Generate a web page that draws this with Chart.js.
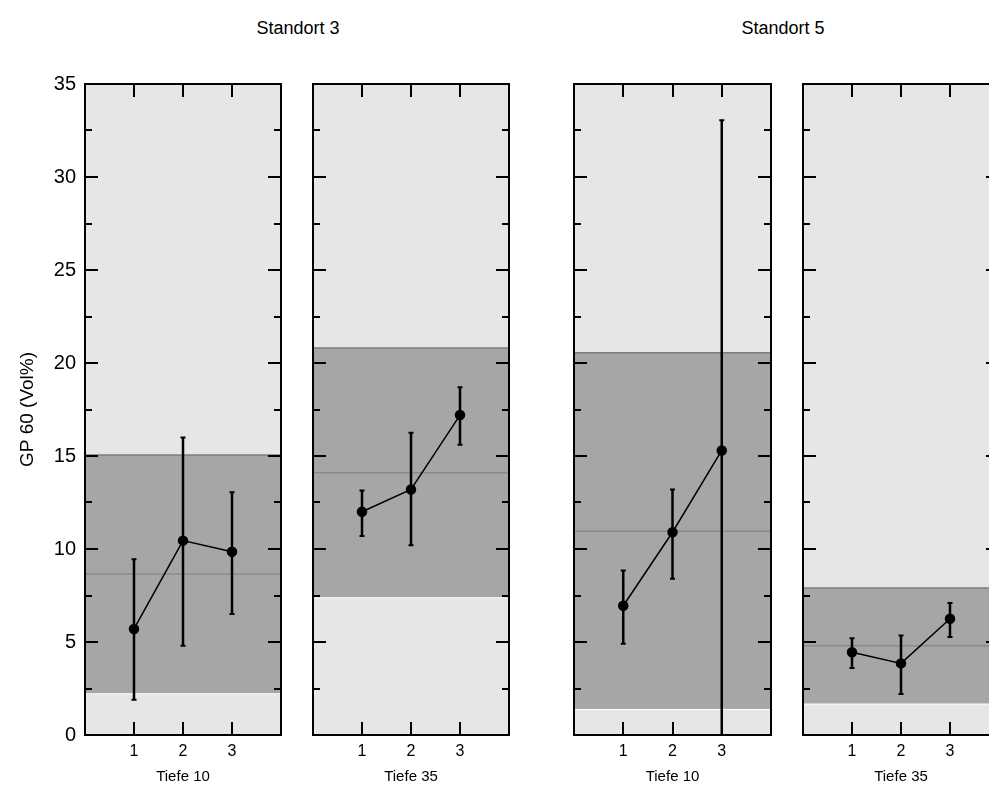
<!DOCTYPE html>
<html>
<head>
<meta charset="utf-8">
<script src="https://cdn.jsdelivr.net/npm/chart.js@4"></script>
<style>
  html, body { margin: 0; padding: 0; background: #fff; overflow: hidden; }
  body { width: 989px; height: 787px; position: relative; font-family: "Liberation Sans", Arial, sans-serif; }
  .site { position: absolute; top: 18px; font-size: 18px; color: #000; transform: translateX(-50%); white-space: nowrap; }
  canvas { position: absolute; top: 0; }
</style>
</head>
<body>
<div class="site" style="left:298px">Standort 3</div>
<div class="site" style="left:783px">Standort 5</div>
<canvas id="c0" width="291" height="787" style="left:0px"></canvas>
<canvas id="c1" width="216" height="787" style="left:303px"></canvas>
<canvas id="c2" width="217" height="787" style="left:564px"></canvas>
<canvas id="c3" width="216" height="787" style="left:793px"></canvas>
<script>
// Daten
const depths = ['Tiefe 10', 'Tiefe 35', 'Tiefe 10', 'Tiefe 35'];
const xCats = [1, 2, 3];
const yTicks = [0, 5, 10, 15, 20, 25, 30, 35];
const means = [
    [5.7, 10.45, 9.85],
    [12.0, 13.2, 17.2],
    [6.95, 10.9, 15.3],
    [4.45, 3.85, 6.25]
];
const errLow = [
    [1.9, 4.8, 6.5],
    [10.7, 10.2, 15.6],
    [4.9, 8.4, -2.5],
    [3.6, 2.2, 5.27]
];
const errHigh = [
    [9.45, 16.0, 13.05],
    [13.15, 16.25, 18.7],
    [8.85, 13.2, 33.05],
    [5.2, 5.35, 7.1]
];
const bandLow = [2.25, 7.4, 1.4, 1.7];
const bandHigh = [15.05, 20.8, 20.55, 7.9];
const bandMid = [8.65, 14.1, 10.95, 4.8];

const FONT = '"Liberation Sans", Arial, sans-serif';

// Hintergrund, Fehlerbalken, Rahmen und Ticks
const panelPlugin = {
    id: 'panel',
    beforeDraw(chart) {
        const { ctx, chartArea: a } = chart;
        ctx.save();
        ctx.fillStyle = '#e6e6e6';
        ctx.fillRect(a.left, a.top, a.right - a.left, a.bottom - a.top);
        ctx.restore();
    },
    afterDatasetsDraw(chart) {
        const p = chart.options.plugins.panel.index;
        const { ctx, chartArea: a, scales: { x, y } } = chart;
        ctx.save();
        ctx.beginPath();
        ctx.rect(a.left, a.top, a.right - a.left, a.bottom - a.top);
        ctx.clip();
        ctx.strokeStyle = '#000';
        xCats.forEach((c, i) => {
            const px = x.getPixelForValue(c);
            const y1 = y.getPixelForValue(errLow[p][i]);
            const y2 = y.getPixelForValue(errHigh[p][i]);
            ctx.lineWidth = 2.5;
            ctx.beginPath();
            ctx.moveTo(px, y1);
            ctx.lineTo(px, y2);
            ctx.stroke();
            ctx.lineWidth = 2;
            ctx.beginPath();
            ctx.moveTo(px - 2.5, y1); ctx.lineTo(px + 2.5, y1);
            ctx.moveTo(px - 2.5, y2); ctx.lineTo(px + 2.5, y2);
            ctx.stroke();
        });
        ctx.restore();
    },
    afterDraw(chart) {
        const { ctx, chartArea: a, scales: { x, y } } = chart;
        ctx.save();
        ctx.strokeStyle = '#000';
        ctx.lineWidth = 2;
        ctx.beginPath();
        // y Ticks (innen, links und rechts)
        for (let v = 0; v <= 35; v += 2.5) {
            const py = Math.round(y.getPixelForValue(v));
            const len = (v % 5 === 0) ? 13 : 7;
            ctx.moveTo(a.left, py); ctx.lineTo(a.left + len, py);
            ctx.moveTo(a.right, py); ctx.lineTo(a.right - len, py);
        }
        // x Ticks (innen, oben und unten)
        xCats.forEach(c => {
            const px = Math.round(x.getPixelForValue(c));
            ctx.moveTo(px, a.top); ctx.lineTo(px, a.top + 13);
            ctx.moveTo(px, a.bottom); ctx.lineTo(px, a.bottom - 13);
        });
        ctx.stroke();
        ctx.strokeRect(a.left, a.top, a.right - a.left, a.bottom - a.top);
        ctx.restore();
    }
};

function makeChart(p) {
    const ctx = document.getElementById('c' + p).getContext('2d');
    const first = p === 0;
    return new Chart(ctx, {
        type: 'line',
        data: {
            datasets: [
                {
                    // Mittelwerte
                    data: xCats.map((c, i) => ({ x: c, y: means[p][i] })),
                    borderColor: '#000',
                    borderWidth: 1.5,
                    pointRadius: 4.5,
                    pointBackgroundColor: '#000',
                    pointBorderColor: '#000',
                    fill: false,
                    tension: 0,
                    order: 0
                },
                {
                    // Bandmitte
                    data: [{ x: 0, y: bandMid[p] }, { x: 4, y: bandMid[p] }],
                    borderColor: '#8a8a8a',
                    borderWidth: 1.5,
                    pointRadius: 0,
                    fill: false,
                    order: 1
                },
                {
                    // Band oben
                    data: [{ x: 0, y: bandHigh[p] }, { x: 4, y: bandHigh[p] }],
                    borderColor: '#7d7d7d',
                    borderWidth: 1.5,
                    pointRadius: 0,
                    backgroundColor: '#a6a6a6',
                    fill: '+1',
                    order: 2
                },
                {
                    // Band unten
                    data: [{ x: 0, y: bandLow[p] }, { x: 4, y: bandLow[p] }],
                    borderColor: '#ffffff',
                    borderWidth: 2,
                    pointRadius: 0,
                    fill: false,
                    order: 3
                }
            ]
        },
        options: {
            responsive: false,
            animation: false,
            layout: { padding: { top: 84, left: first ? 0 : 10, right: 10, bottom: 0 } },
            plugins: {
                legend: { display: false },
                tooltip: { enabled: false },
                panel: { index: p }
            },
            scales: {
                x: {
                    type: 'linear',
                    min: 0,
                    max: 4,
                    grid: { display: false, drawTicks: false },
                    border: { display: false },
                    afterBuildTicks: s => { s.ticks = xCats.map(v => ({ value: v })); },
                    afterFit: s => { s.height = 52; },
                    ticks: {
                        color: '#000',
                        padding: 7,
                        font: { family: FONT, size: 16 }
                    },
                    title: {
                        display: true,
                        text: depths[p],
                        color: '#000',
                        font: { family: FONT, size: 15 },
                        padding: { top: 0, bottom: 1 }
                    }
                },
                y: {
                    type: 'linear',
                    min: 0,
                    max: 35,
                    display: first,
                    grid: { display: false, drawTicks: false },
                    border: { display: false },
                    afterBuildTicks: s => { s.ticks = yTicks.map(v => ({ value: v })); },
                    afterFit: s => { s.width = first ? 85 : 0; },
                    ticks: {
                        color: '#000',
                        padding: 9,
                        font: { family: FONT, size: 20 }
                    },
                    title: {
                        display: true,
                        text: 'GP 60 (Vol%)',
                        color: '#000',
                        font: { family: FONT, size: 19 },
                        padding: { top: 16, bottom: 0 }
                    }
                }
            }
        },
        plugins: [panelPlugin]
    });
}

[0, 1, 2, 3].forEach(makeChart);
</script>
</body>
</html>
